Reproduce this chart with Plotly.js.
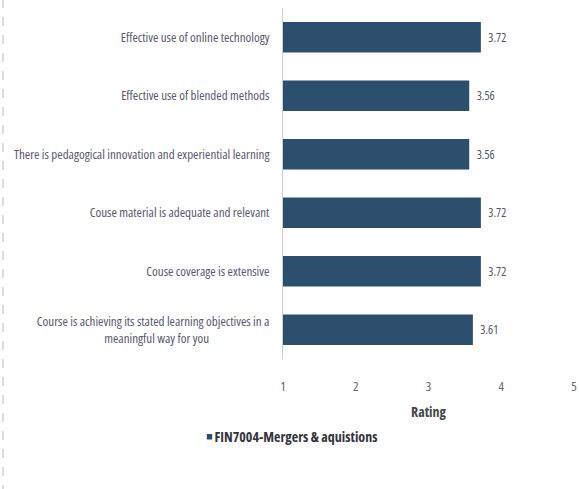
<!DOCTYPE html>
<html><head><meta charset="utf-8">
<script src="https://cdn.plot.ly/plotly-3.0.1.min.js"></script>
<style>
html,body{margin:0;padding:0;background:#fff}
#chart{width:579px;height:489px}
text{font-stretch:75%}
</style>
</head><body><div id="chart"></div>
<script>
var categories = [
  "Effective use of online technology",
  "Effective use of blended methods",
  "There is pedagogical innovation and experiential learning",
  "Couse material is adequate and relevant",
  "Couse coverage is extensive",
  "Course is achieving its stated learning objectives in a<br>meaningful way for you"
];
var ratings = [3.72, 3.56, 3.56, 3.72, 3.72, 3.61];
var seriesName = "FIN7004-Mergers & aquistions";
var xTicks = [1, 2, 3, 4, 5];

var FONT = "'Open Sans', 'Roboto Condensed', sans-serif";
var PAD = "\u00a0".repeat(25);
var tickText = categories.map(function (c) {
  var parts = c.split("<br>");
  return parts.length > 1 ? parts[0] + "<br>" + parts[1] + PAD : c;
});

var trace = {
  type: "bar", orientation: "h",
  y: categories, x: ratings, base: 0,
  name: seriesName,
  texttemplate: "\u00a0\u00a0%{x:.2f}", textposition: "outside", cliponaxis: false,
  textfont: {family: FONT, size: 12, color: "#55555f"},
  marker: {color: "#2b4f6c", line: {width: 0}},
  width: 0.52,
  showlegend: true
};
var layout = {
  width: 579, height: 489,
  margin: {l: 283, r: 5, t: 8, b: 130},
  paper_bgcolor: "#ffffff", plot_bgcolor: "#ffffff",
  font: {family: FONT, color: "#555566", size: 13},
  xaxis: {
    range: [1, 5], tickvals: xTicks, ticktext: xTicks.map(String),
    showgrid: false, zeroline: false, showline: false, ticks: "",
    ticklabelstandoff: 18, ticklabeloverflow: "allow", automargin: false,
    tickfont: {family: FONT, size: 13, color: "#66666e"},
    title: {text: "<b>Rating</b>", font: {family: FONT, size: 14, color: "#44444c"}, standoff: 30}
  },
  yaxis: {
    autorange: "reversed", showgrid: false, zeroline: false,
    showline: true, linecolor: "#c8d0dc", linewidth: 1, ticks: "",
    tickmode: "array", tickvals: categories, ticktext: tickText,
    ticklabelstandoff: 10, automargin: false,
    tickfont: {family: FONT, size: 13, color: "#58586e"}
  },
  legend: {
    orientation: "h", xref: "container", yref: "container",
    x: 0.481, xanchor: "center", y: 0.106, yanchor: "middle",
    font: {family: FONT, size: 14, color: "#33333d", weight: "bold"},
    itemwidth: 30
  },
  shapes: [{
    type: "line", xref: "paper", yref: "paper",
    x0: -280/291, x1: -280/291, y0: -1.0, y1: 1.05,
    line: {color: "#b8b8c0", width: 1, dash: "dash"}
  }]
};
Plotly.newPlot("chart", [trace], layout, {displayModeBar: false, staticPlot: true}).then(function (gd) {
  var pts = gd.querySelectorAll(".legendpoints path");
  pts.forEach(function (p) { p.setAttribute("transform", "translate(35,0) scale(0.45)"); });
});
</script></body></html>
